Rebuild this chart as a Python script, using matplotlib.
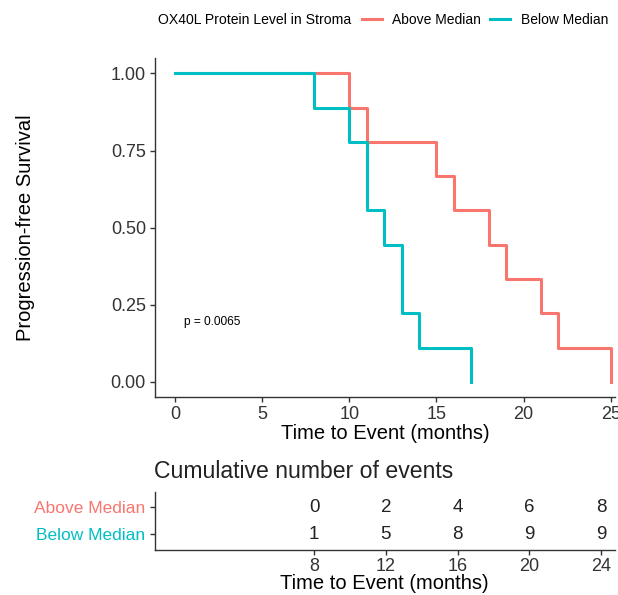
import matplotlib
matplotlib.use("Agg")
import matplotlib.pyplot as plt
from matplotlib.lines import Line2D

plt.rcParams['font.family'] = ['Liberation Sans', 'DejaVu Sans']

# survival curves (step points)
above_t = [0, 10, 11, 15, 16, 18, 19, 21, 22, 25]
above_s = [1.0, 0.889, 0.778, 0.667, 0.556, 0.444, 0.333, 0.222, 0.111, 0.0]
below_t = [0, 8, 10, 11, 12, 13, 14, 17]
below_s = [1.0, 0.889, 0.778, 0.556, 0.444, 0.222, 0.111, 0.0]

# cumulative events table
table_t = [8, 12, 16, 20, 24]
above_ev = [0, 2, 4, 6, 8]
below_ev = [1, 5, 8, 9, 9]

groups = ['Above Median', 'Below Median']
red = '#F8766D'
teal = '#00BFC4'
W, H = 618, 595

fig = plt.figure(figsize=(W / 100, H / 100), dpi=100)

def style(ax):
    for s in ['top', 'right']:
        ax.spines[s].set_visible(False)
    for s in ['left', 'bottom']:
        ax.spines[s].set_color('#333333')
        ax.spines[s].set_linewidth(1.0)
    ax.tick_params(colors='#333333', length=3.5, width=1.0, labelsize=13, labelcolor='#333333', pad=3)

# main KM plot
ax = fig.add_axes([155 / W, (H - 397) / H, (615 - 155) / W, (397 - 58) / H])
ax.step(above_t, above_s, where='post', color=red, lw=2.2)
ax.step(below_t, below_s, where='post', color=teal, lw=2.2)
ax.set_xlim(-1.15, 25.25)
ax.set_ylim(-0.049, 1.05)
ax.set_xticks([0, 5, 10, 15, 20, 25])
ax.set_yticks([0, 0.25, 0.5, 0.75, 1.0])
ax.set_yticklabels(['0.00', '0.25', '0.50', '0.75', '1.00'])
ax.set_xlabel('Time to Event (months)', fontsize=14.5, color='black', labelpad=1)
ax.set_ylabel('Progression-free Survival', fontsize=14.5, color='black')
ax.yaxis.set_label_coords(-0.261, 0.5)
ax.text(0.52, 0.194, 'p = 0.0065', fontsize=8.6, va='center', ha='left', color='black')
style(ax)

# legend
fig.text(158 / W, 1 - 20 / H, 'OX40L Protein Level in Stroma', fontsize=10.1, va='center', ha='left')
handles = [Line2D([], [], color=red, lw=2.2), Line2D([], [], color=teal, lw=2.2)]
fig.legend(handles, groups, ncol=2, loc='center left', bbox_to_anchor=(361.5 / W, 1 - 20 / H),
           frameon=False, fontsize=10, handlelength=1.44, handletextpad=0.79,
           columnspacing=0.65, borderpad=0, borderaxespad=0)

# risk table
tb = fig.add_axes([154.5 / W, (H - 550.3) / H, (615 - 154.5) / W, (550.3 - 491.7) / H])
for t, a, b in zip(table_t, above_ev, below_ev):
    tb.text(t, 2, str(a), ha='center', va='center', fontsize=13.5, color='#222222')
    tb.text(t, 1, str(b), ha='center', va='center', fontsize=13.5, color='#222222')
tb.set_xlim(-0.9, 24.78)
tb.set_ylim(0.39, 2.59)
tb.set_xticks(table_t)
tb.set_yticks([2, 1])
tb.set_yticklabels(groups)
style(tb)
for lab, c in zip(tb.get_yticklabels(), [red, teal]):
    lab.set_color(c)
    lab.set_fontsize(12.5)
tb.tick_params(axis='x', pad=2)
tb.set_xlabel('Time to Event (months)', fontsize=14.5, color='black', labelpad=-1)
tb.set_title('Cumulative number of events', fontsize=16.6, loc='left', pad=10, color='#222222')

fig.savefig('out.png', dpi=100)
